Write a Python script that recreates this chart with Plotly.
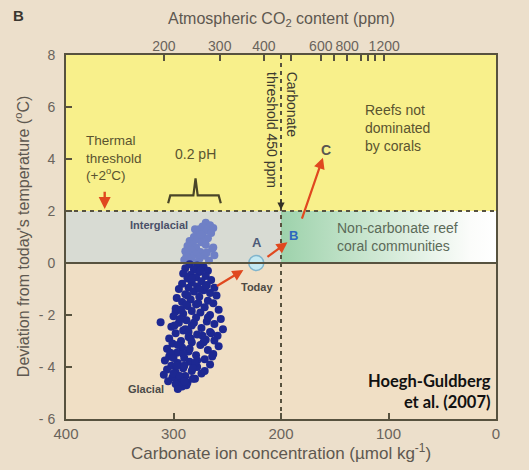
import plotly.graph_objects as go

# ---------------- data ----------------
x_ticks = [400, 300, 200, 100, 0]
y_ticks = [-6, -4, -2, 0, 2, 4, 6, 8]
y_ticktext = ["- 6", "- 4", "- 2", "0", "2", "4", "6", "8"]

# top axis: CO2 ppm labels placed at the equivalent carbonate ion concentration
co2_labels = ["200", "300", "400", "600", "800", "1200"]
co2_label_carbonate = [309, 257, 216, 163, 138.5, 104]
# unlabelled CO2 ticks (500, 700, 900, 1000, 1100 ppm)
co2_minor_carbonate = [191, 150.5, 125.5, 119, 113]

# interglacial (light blue) points: carbonate ion, temperature deviation
inter_x = [270, 266, 273, 263, 276, 269, 278, 265, 273, 281, 268, 278, 285, 274, 282,
           270, 287, 279, 264, 283, 289, 275, 279, 286, 271, 283, 276, 290, 267, 284,
           278, 263, 275, 288, 269, 262, 280]
inter_y = [1.55, 1.45, 1.4, 1.35, 1.3, 1.25, 1.2, 1.15, 1.05, 1.0, 0.95, 0.9, 0.85, 0.8, 0.72,
           0.7, 0.65, 0.6, 0.55, 0.5, 0.45, 0.42, 0.35, 0.3, 0.28, 0.2, 0.15, 0.12, 0.1, 0.05,
           0.02, 0.6, 1.1, 0.25, 0.4, 0.3, 1.3]

# glacial (dark blue) points
glac_x = [285, 278, 272, 289, 281, 268, 276, 291, 284, 270, 279, 287, 265, 274, 283, 292, 269, 278, 286, 262,
          295, 272, 281, 266, 289, 260, 276, 297, 284, 268, 292, 263, 279, 287, 271, 298, 258, 283, 275, 291, 266,
          298, 312,
          300, 279, 256, 288, 269, 295, 262, 283, 302, 274, 254, 291, 266, 298, 278, 259, 286, 304, 270, 293, 262,
          283, 301, 275, 258, 292, 306, 268, 286, 297, 263, 279, 304, 290, 271, 308, 285, 296, 266, 302, 278,
          291, 306, 283, 298, 274, 309, 289, 301, 280, 295, 305, 287, 298, 292, 296,
          275, 283, 270, 287, 277, 293, 268, 281, 289, 273, 296, 285, 264, 278, 290, 300, 271, 282, 294, 288,
          276, 299, 265, 284, 303, 272, 291, 280, 297, 286, 300, 294, 288, 282, 290]
glac_y = [-0.05, -0.1, -0.15, -0.2, -0.25, -0.3, -0.35, -0.4, -0.45, -0.5, -0.55, -0.6, -0.65, -0.7, -0.75, -0.8, -0.85, -0.9, -0.95, -0.95,
          -1.0, -1.05, -1.1, -1.15, -1.2, -1.25, -1.3, -1.35, -1.4, -1.45, -1.5, -1.55, -1.6, -1.65, -1.7, -1.75, -1.8, -1.85, -1.9, -1.95, -2.0,
          -1.87, -2.28,
          -2.05, -2.1, -2.15, -2.2, -2.25, -2.3, -2.35, -2.4, -2.45, -2.5, -2.55, -2.6, -2.65, -2.7, -2.75, -2.8, -2.85, -2.9, -2.95, -3.0, -2.98,
          -3.05, -3.1, -3.15, -3.2, -3.25, -3.3, -3.35, -3.4, -3.45, -3.5, -3.55, -3.6, -3.65, -3.7, -3.75, -3.8, -3.85, -3.9, -3.95, -4.0,
          -4.05, -4.1, -4.15, -4.2, -4.25, -4.3, -4.35, -4.4, -4.45, -4.5, -4.55, -4.6, -4.65, -4.75, -4.85,
          -0.3, -0.6, -0.9, -1.25, -1.55, -1.8, -2.1, -2.3, -2.55, -2.8, -3.15, -3.3, -3.6, -3.75, -3.95, -4.25, -4.15, -4.45, -4.35, -4.7,
          -1.0, -2.4, -2.7, -2.9, -3.45, -3.05, -3.5, -3.85, -3.95, -2.65, -3.65, -2.15, -1.6, -4.05, -4.55]

# trajectory points (carbonate ion, temperature deviation)
point_a = (223, 0.0)
point_b = (188, 1.05)
point_c = (158, 4.35)

# arrows: (tail_x, tail_y, head_x, head_y)
arrow_glacial_to_a = (261, -0.92, 235, -0.27)
arrow_a_to_b = (214, 0.19, 194, 0.8)
arrow_b_to_c = (181, 1.65, 161, 4.05)
arrow_thermal = (364, 2.8, 364, 2.08)

# brace for "0.2 pH"
brace_x = [305, 303, 281.5, 279.5, 277.5, 258, 256]
brace_y = [2.3, 2.6, 2.6, 3.25, 2.6, 2.6, 2.3]

# thresholds
temp_threshold = 2
carbonate_threshold = 200

# ---------------- styling ----------------
paper_bg = "#ecdfcb"
below_bg = "#f0dfc5"
yellow = "#f8f08b"
grey_band = "#d8dbd3"
green = "#9dd2ab"
frame = "#57523f"
text_olive = "#5a5430"
tick_grey = "#6a645c"
arrow_red = "#e0481f"
FONT = "Liberation Sans"

fig = go.Figure()

# green -> white gradient band (non-carbonate reef coral communities)
fig.add_trace(go.Scatter(
    x=[carbonate_threshold, 0, 0, carbonate_threshold, carbonate_threshold],
    y=[0, 0, temp_threshold, temp_threshold, 0],
    mode="lines", fill="toself", line=dict(width=0),
    fillgradient=dict(type="horizontal",
                      colorscale=[[0, "#ffffff"], [0.12, "#fbfcfa"], [0.55, "#cfe8d4"], [1, green]],
                      start=0, stop=carbonate_threshold),
    hoverinfo="skip", showlegend=False))

# brace
fig.add_trace(go.Scatter(x=brace_x, y=brace_y, mode="lines",
                         line=dict(color="#4a4528", width=2.2), hoverinfo="skip", showlegend=False))

# scatter points
fig.add_trace(go.Scatter(x=inter_x, y=inter_y, mode="markers",
                         marker=dict(color="#6f80c6", size=8, line=dict(width=0)),
                         hoverinfo="skip", showlegend=False))
fig.add_trace(go.Scatter(x=glac_x, y=glac_y, mode="markers",
                         marker=dict(color="#1d2892", size=8, line=dict(width=0)),
                         hoverinfo="skip", showlegend=False))

# point A
fig.add_trace(go.Scatter(x=[point_a[0]], y=[point_a[1]], mode="markers",
                         marker=dict(color="#c4e9f2", size=15, line=dict(color="#7fb4cc", width=1.5)),
                         hoverinfo="skip", showlegend=False))

# invisible trace to create top axis
fig.add_trace(go.Scatter(x=[co2_label_carbonate[0]], y=[0], xaxis="x2", mode="markers",
                         marker=dict(opacity=0), hoverinfo="skip", showlegend=False))

shapes = [
    dict(type="rect", xref="x", yref="y", x0=400, x1=0, y0=temp_threshold, y1=8,
         fillcolor=yellow, line=dict(width=0), layer="below"),
    dict(type="rect", xref="x", yref="y", x0=400, x1=carbonate_threshold, y0=0, y1=temp_threshold,
         fillcolor=grey_band, line=dict(width=0), layer="below"),
    dict(type="line", xref="x", yref="y", x0=400, x1=0, y0=0, y1=0,
         line=dict(color=frame, width=2), layer="above"),
    dict(type="line", xref="x", yref="y", x0=400, x1=0, y0=temp_threshold, y1=temp_threshold,
         line=dict(color=frame, width=2, dash="4px,4px"), layer="above"),
    dict(type="line", xref="x", yref="y", x0=carbonate_threshold, x1=carbonate_threshold, y0=-6, y1=8,
         line=dict(color=frame, width=2, dash="4px,4px"), layer="above"),
]

def arrow(a, color=arrow_red, width=2.2, head=2, size=1.0):
    return dict(x=a[2], y=a[3], ax=a[0], ay=a[1], xref="x", yref="y", axref="x", ayref="y",
                text="", showarrow=True, arrowhead=head, arrowsize=size, arrowwidth=width,
                arrowcolor=color)

def label(x, y, text, size, color, family=FONT, xanchor="center", yanchor="middle",
          align="center", angle=0, ref="data"):
    r = ("x", "y") if ref == "data" else ("paper", "paper")
    return dict(x=x, y=y, xref=r[0], yref=r[1], text=text, showarrow=False, xanchor=xanchor,
                yanchor=yanchor, align=align, textangle=angle,
                font=dict(family=family, size=size, color=color))

annotations = [
    arrow(arrow_glacial_to_a),
    arrow(arrow_a_to_b),
    arrow(arrow_b_to_c),
    arrow(arrow_thermal, width=2.4, size=1.0),
    arrow((carbonate_threshold, 2.5, carbonate_threshold, 2.05), color="#333025", width=1.2, head=2, size=1.2),
    label(point_a[0] - 1, 0.8, "<b>A</b>", 13, "#4d5a78"),
    label(point_a[0] - 1, -0.92, "<b>Today</b>", 11, "#4e4a44"),
    label(point_b[0], point_b[1], "<b>B</b>", 13, "#2d68bf"),
    label(point_c[0], point_c[1], "<b>C</b>", 14, "#5a5650"),
    label(383, 4.05, "Thermal<br>threshold<br>(+2<sup>o</sup>C)", 13.5, text_olive,
          xanchor="left", align="left"),
    label(280, 4.2, "0.2 pH", 14, text_olive),
    label(285, 1.45, "<b>Interglacial</b>", 11, "#4a5068", xanchor="right"),
    label(307, -4.85, "<b>Glacial</b>", 11, "#4a4a48", xanchor="right"),
    label(124, 5.2, "Reefs not<br>dominated<br>by corals", 14, text_olive, xanchor="left", align="left"),
    label(150, 1.0, "Non-carbonate reef<br>coral communities", 14, "#5b6a58", xanchor="left", align="left"),
    label(190, 6.1, "Carbonate", 14, "#3c3a30", angle=90),
    label(209, 5.1, "threshold 450 ppm", 14, "#3c3a30", angle=90),
    label(3, -4.93, "<b>Hoegh-Guldberg<br>et al. (2007)</b>", 16.5, "#111111", family="Lato",
          xanchor="right", align="right"),
    # panel label and axis titles
    label(-0.11, 1.108, "<b>B</b>", 15, "#3a3630", ref="paper"),
    label(0.5, 1.098, "Atmospheric CO<sub>2</sub> content (ppm)", 16, "#5e5850", ref="paper"),
    label(0.5, -0.092, "Carbonate ion concentration (\u00b5mol kg<sup>-1</sup>)", 17, "#5e5850",
          ref="paper"),
    label(-0.102, 0.5, "Deviation from today's temperature (<sup>o</sup>C)", 16, "#5e5850",
          angle=-90, ref="paper"),
]

tick_style = dict(ticks="inside", ticklen=6, tickwidth=2, tickcolor=frame)

fig.update_layout(
    width=529, height=470,
    margin=dict(l=66, r=33, t=55, b=51),
    paper_bgcolor=paper_bg, plot_bgcolor=below_bg,
    showlegend=False,
    shapes=shapes, annotations=annotations,
    xaxis=dict(range=[400, 0], tickvals=x_ticks, **tick_style,
               showline=True, linecolor=frame, linewidth=2, mirror=True,
               showgrid=False, zeroline=False,
               tickfont=dict(family=FONT, size=15, color=tick_grey)),
    xaxis2=dict(range=[400, 0], overlaying="x", side="top", anchor="y",
                tickvals=co2_label_carbonate, ticktext=co2_labels, **tick_style,
                minor=dict(tickmode="array", tickvals=co2_minor_carbonate, **tick_style, showgrid=False),
                tickangle=0, showline=False, showgrid=False, zeroline=False,
                tickfont=dict(family=FONT, size=14, color=tick_grey)),
    yaxis=dict(range=[-6, 8], tickvals=y_ticks, ticktext=y_ticktext, **tick_style,
               showline=True, linecolor=frame, linewidth=2, mirror=True,
               showgrid=False, zeroline=False, ticklabelstandoff=6,
               tickfont=dict(family=FONT, size=14, color=tick_grey)),
)

fig.write_html("out.html", config={"displayModeBar": False},
               post_script="document.body.style.margin='0';document.body.style.padding='0';"
                           "document.body.style.overflow='hidden';")
